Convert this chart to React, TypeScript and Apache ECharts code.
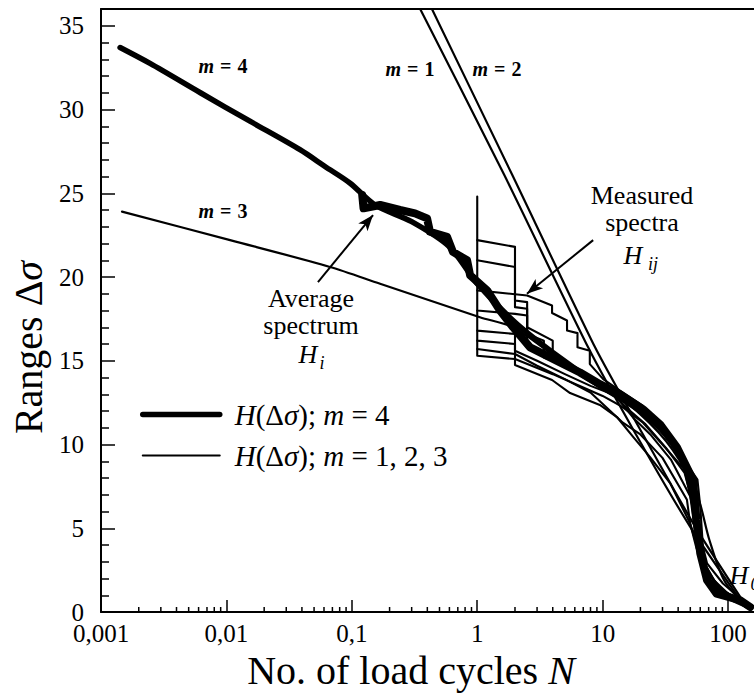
import React, { useEffect, useRef } from "react";
import * as echarts from "echarts";

type Pt = [number, number];

// ---- axes ----
const xMin = 0.001;
const xMax = 161;
const yMin = 0;
const yMax = 36;
const yInterval = 5;
const xTickLabels = ["0,001", "0,01", "0,1", "1", "10", "100"];
const xMinorTicks: number[] = [];
for (let d = -3; d <= 2; d++) {
  for (let k = 2; k <= 9; k++) {
    const v = k * Math.pow(10, d);
    if (v < xMax) xMinorTicks.push(v);
  }
}

const M4_NAME = "H(Δσ); m = 4";
const M123_NAME = "H(Δσ); m = 1, 2, 3";

// ---- fitted curves H(Δσ) ----
const curveM4: Pt[] = [
  [0.00142, 33.7], [0.00246, 32.75], [0.0062, 31.0], [0.0154, 29.3], [0.0386, 27.6],
  [0.0611, 26.6], [0.097, 25.6], [0.153, 24.3],
  [0.3, 23.3], [0.6, 21.8], [1, 19.6], [2, 17.3], [4, 15.5], [10, 13.4],
  [20, 12.0], [35, 10.2], [50, 7.8], [57, 5.0], [62, 3.0], [72, 1.6], [100, 0.9], [150, 0.3],
];
const curveM1: Pt[] = [[0.3, 37], [1.64, 26.1], [7.66, 15.8], [17.5, 10.9], [49.8, 5.1], [137, 0.3]];
const curveM2: Pt[] = [[0.375, 37], [1.9, 26.1], [8.7, 15.8], [19.9, 10.9], [54.6, 5.1], [141, 0.3]];
const curveM3: Pt[] = [
  [0.00147, 23.9], [0.0107, 22.2], [0.067, 20.6], [0.168, 19.6], [1.05, 17.6], [1.93, 17.0],
  [3.95, 15.4], [9.5, 13.6], [20, 11.8], [36, 9.7], [56.6, 7.0], [71, 4.3], [93, 1.9], [137, 0.4],
];

// ---- average spectrum H_i ----
const averageSpectrum: Pt[] = [
  [0.121, 24.9], [0.124, 24.1], [0.168, 24.3], [0.242, 24.0], [0.319, 23.8], [0.398, 23.5],
  [0.42, 22.7], [0.574, 22.4], [0.64, 21.5], [0.83, 21.0], [0.877, 20.1], [1.2, 19.2],
  [1.52, 18.0], [1.93, 17.0], [2.64, 15.8], [4.57, 14.9], [6.6, 14.3], [9.5, 13.6],
  [13.8, 13.0], [21, 12.1], [28.7, 11.2], [39, 9.85], [52.5, 7.9], [56, 5.5], [60, 3.5],
  [68, 1.9], [81, 1.1], [125, 0.7], [150, 0.3],
];

// ---- measured spectra H_ij ----
const measured1: Pt[] = [[1, 24.8], [1, 22.2], [2, 21.8], [2, 18.6], [2.5, 18.5], [2.5, 16.6], [3.4, 16.2], [3.4, 15.2], [5, 14.7], [7, 14.1], [10, 13.5], [15, 12.7], [20, 12.0], [30, 10.7], [45, 9.1], [55, 6.8], [60, 3.6], [72, 1.9], [100, 1.0], [150, 0.3]];
const measured2: Pt[] = [[1, 22.2], [1, 21.0], [2, 20.6], [2, 18.2], [2.5, 18.1], [2.5, 17.0], [4, 16.2], [4, 15.0], [6, 14.4], [9, 13.7], [13, 13.1], [17, 12.5], [25, 11.5], [40, 9.9], [54, 7.9], [58, 5.2], [65, 2.6], [90, 1.3], [150, 0.4]];
const measured3: Pt[] = [[1, 21.0], [1, 19.2], [2.5, 18.9], [3.95, 18.3], [3.95, 17.85], [5.2, 17.4], [5.2, 16.8], [6.3, 16.65], [6.3, 15.8], [7.9, 15.6], [7.9, 14.8], [10.1, 13.9], [14.5, 13.1], [21, 12.3], [36, 10.1], [57, 7.9], [60, 6.3], [63, 3.9], [68, 2.9], [91, 1.7], [150, 0.3]];
const measured4: Pt[] = [[1, 19.2], [1, 18.0], [2, 17.8], [2.5, 17.7], [2.5, 16.0], [4, 15.3], [5.5, 14.5], [9.5, 13.4], [13, 12.8], [17.5, 11.6], [24, 10.6], [35, 9.1], [50, 6.9], [55, 4.6], [66, 2.8], [86, 1.3], [125, 0.7]];
const measured5: Pt[] = [[1, 18.0], [1, 16.8], [2, 16.6], [2, 15.6], [3, 15.0], [5, 14.2], [8, 13.5], [12, 13.0], [16, 12.1], [22, 11.2], [32, 9.8], [45, 8.3], [52, 6.6], [56, 4.8], [62, 3.0], [80, 1.6], [130, 0.5]];
const measured6: Pt[] = [[1, 16.8], [1, 16.2], [2, 16.0], [2, 14.75], [3.95, 13.85], [5.5, 13.07], [9.5, 12.36], [13, 11.64], [17.5, 10.45], [23.9, 9.25], [34.5, 7.7], [49.8, 5.3], [54.6, 4.3], [65.6, 2.8], [86, 1.3], [125, 0.7]];
const measured7: Pt[] = [[1, 16.2], [1, 15.7], [2, 15.4], [3, 14.7], [5, 13.9], [8, 13.1], [14.5, 11.3], [20, 10.6], [30, 9.2], [47, 6.7], [49.8, 5.3], [56, 3.8], [75, 1.6], [140, 0.5]];
const measured8: Pt[] = [[1, 15.7], [1, 15.3], [2, 15.1], [4, 14.2], [7, 13.4], [10, 12.9], [14, 12.3], [21, 11.3], [30, 10.0], [45, 8.5], [53, 6.0], [58, 3.8], [70, 2.2], [110, 0.8], [150, 0.3]];
const measuredSpectra: Pt[][] = [measured1, measured2, measured3, measured4, measured5, measured6, measured7, measured8];

// ---- annotation arrows (data coordinates: tail -> head) ----
const arrowAverage: Pt[] = [[0.0537, 19.7], [0.1476, 23.7]];
const arrowMeasured: Pt[] = [[8.4, 22.2], [2.49, 19.0]];

const SERIF = "Liberation Serif";
const BLACK = "#000";
const CLEAR = "rgba(0,0,0,0)";

function fmtX(v: number): string {
  const l = Math.log10(v);
  const r = Math.round(l);
  if (Math.abs(l - r) > 0.01) return "";
  return xTickLabels[r + 3] ?? "";
}

function line(name: string, data: Pt[], width: number, z: number, smooth: number | boolean = false) {
  return {
    type: "line",
    name,
    data,
    xAxisIndex: 0,
    yAxisIndex: 0,
    symbol: "none",
    showSymbol: false,
    silent: true,
    clip: true,
    smooth,
    z,
    itemStyle: { color: BLACK },
    lineStyle: { color: BLACK, width, cap: "round", join: "round" },
  };
}

function text(x: number, y: number, t: string, size: number, extra: any = {}) {
  return {
    type: "text",
    x,
    y,
    silent: true,
    z: 100,
    style: {
      text: t,
      fontFamily: SERIF,
      fontSize: size,
      fill: BLACK,
      align: "center",
      verticalAlign: "middle",
      ...extra,
    },
  };
}

function mLabel(x: number, y: number, digit: string) {
  const base = { fontFamily: SERIF, fontSize: 20, fontWeight: "bold", fill: BLACK };
  return {
    type: "text",
    x,
    y,
    silent: true,
    z: 100,
    style: {
      text: `{a|m}{b|=}{c|${digit}}`,
      align: "center",
      verticalAlign: "middle",
      fontFamily: SERIF,
      fontSize: 20,
      fontWeight: "bold",
      fill: BLACK,
      rich: {
        a: { ...base, fontStyle: "italic" },
        b: { ...base, padding: [0, 6, 0, 6] },
        c: { ...base },
      },
    },
  };
}

export default function App() {
  const ref = useRef<HTMLDivElement>(null);

  useEffect(() => {
    if (!ref.current) return;
    const chart = echarts.init(ref.current, null, { renderer: "svg" });

    const series: any[] = [];
    measuredSpectra.forEach((d, i) => series.push(line(`Measured spectrum H_i${i + 1}`, d, 2.1, 2)));
    series.push(line(M123_NAME, curveM1, 2.2, 3, 0.2));
    series.push(line(M123_NAME, curveM2, 2.2, 3, 0.2));
    series.push(line(M123_NAME, curveM3, 2.2, 3, 0.3));
    series.push(line(M4_NAME, curveM4, 5.5, 4, 0.3));
    const avg: any = line("Average spectrum H_i", averageSpectrum, 8, 5);
    avg.markLine = {
      silent: true,
      symbol: ["none", "arrow"],
      symbolSize: [9, 16],
      label: { show: false },
      lineStyle: { color: BLACK, width: 2, type: "solid" },
      data: [
        [{ coord: arrowAverage[0] }, { coord: arrowAverage[1] }],
        [{ coord: arrowMeasured[0] }, { coord: arrowMeasured[1] }],
      ],
    };
    series.push(avg);
    series.push({
      type: "custom",
      name: "x minor ticks",
      xAxisIndex: 0,
      yAxisIndex: 0,
      silent: true,
      clip: false,
      z: 6,
      data: xMinorTicks.map((v) => [v, 0]),
      renderItem: (_p: any, api: any) => {
        const p = api.coord([api.value(0), 0]);
        return {
          type: "line",
          shape: { x1: p[0], y1: p[1], x2: p[0], y2: p[1] - 5 },
          style: { stroke: BLACK, lineWidth: 1.5 },
        };
      },
    });

    const italic = { fontFamily: SERIF, fontStyle: "italic", color: BLACK };
    const noSymbol = { color: CLEAR, borderColor: CLEAR, borderWidth: 0, opacity: 0 };

    chart.setOption({
      animation: false,
      backgroundColor: "#fff",
      grid: { left: 101, top: 9, right: 0, bottom: 88 },
      legend: {
        data: [
          { name: M4_NAME, lineStyle: { width: 5.5, color: BLACK }, itemStyle: noSymbol },
          { name: M123_NAME, lineStyle: { width: 2, color: BLACK }, itemStyle: noSymbol },
        ],
        orient: "vertical",
        left: 140,
        top: 400,
        padding: 0,
        itemWidth: 77,
        itemHeight: 14,
        itemGap: 12,
        selectedMode: false,
        formatter: (name: string) =>
          name === M4_NAME ? "{i|H}(Δ{i|σ}); {i|m} = 4" : "{i|H}(Δ{i|σ}); {i|m} = 1, 2, 3",
        textStyle: {
          fontFamily: SERIF,
          fontSize: 29,
          lineHeight: 27,
          color: BLACK,
          padding: [0, 0, 0, 10],
          rich: { i: { ...italic, fontSize: 29, lineHeight: 27 } },
        },
      },
      xAxis: [
        {
          type: "log",
          logBase: 10,
          min: xMin,
          max: xMax,
          position: "bottom",
          axisLine: { show: true, onZero: false, lineStyle: { color: BLACK, width: 2 } },
          axisTick: { show: true, inside: true, length: 12, lineStyle: { color: BLACK, width: 1.5 } },
          axisLabel: {
            show: true,
            margin: 11,
            color: BLACK,
            fontFamily: SERIF,
            fontSize: 25,
            lineHeight: 20,
            showMinLabel: true,
            showMaxLabel: false,
            formatter: fmtX,
          },
          splitLine: { show: false },
          name: "No. of load cycles {i|N}",
          nameLocation: "middle",
          nameGap: 38,
          nameTextStyle: {
            color: BLACK,
            fontFamily: SERIF,
            fontSize: 40,
            padding: [0, 33, 0, 0],
            rich: { i: { ...italic, fontSize: 40 } },
          },
        },
        {
          type: "log",
          logBase: 10,
          min: xMin,
          max: xMax,
          position: "top",
          axisLine: { show: true, onZero: false, lineStyle: { color: BLACK, width: 2 } },
          axisTick: { show: false },
          axisLabel: { show: false },
          splitLine: { show: false },
        },
      ],
      yAxis: {
        type: "value",
        min: yMin,
        max: yMax,
        interval: yInterval,
        axisLine: { show: true, onZero: false, lineStyle: { color: BLACK, width: 2 } },
        axisTick: { show: true, inside: true, length: 14, lineStyle: { color: BLACK, width: 1.5 } },
        minorTick: { show: true, splitNumber: 5, length: 8, lineStyle: { color: BLACK, width: 1.5 } },
        axisLabel: {
          margin: 17,
          color: BLACK,
          fontFamily: SERIF,
          fontSize: 25,
          lineHeight: 18,
          showMaxLabel: false,
          formatter: (v: number) => (v % yInterval === 0 ? String(v) : ""),
        },
        splitLine: { show: false },
        name: "Ranges Δ{i|σ}",
        nameLocation: "middle",
        nameGap: 52,
        nameTextStyle: {
          color: BLACK,
          fontFamily: SERIF,
          fontSize: 40,
          padding: [0, 74, 0, 0],
          rich: { i: { ...italic, fontSize: 40 } },
        },
      },
      graphic: {
        elements: [
          mLabel(223, 66, "4"),
          mLabel(223, 211, "3"),
          mLabel(410, 69, "1"),
          mLabel(497, 69, "2"),
          text(311, 298, "Average", 26),
          text(311, 325, "spectrum", 26),
          text(308, 354, "H", 26, { fontStyle: "italic" }),
          text(322, 363, "i", 18, { fontStyle: "italic" }),
          text(642, 195, "Measured", 26),
          text(642, 222, "spectra", 26),
          text(633, 255, "H", 26, { fontStyle: "italic" }),
          text(653, 264, "ij", 18, { fontStyle: "italic" }),
          text(739, 575, "H", 26, { fontStyle: "italic" }),
          text(755, 584, "0", 18, { fontStyle: "italic" }),
        ],
      },
      series,
    });

    return () => chart.dispose();
  }, []);

  return (
    <div
      ref={ref}
      style={{ position: "absolute", left: 0, top: 0, width: 754, height: 700, background: "#fff" }}
    />
  );
}
